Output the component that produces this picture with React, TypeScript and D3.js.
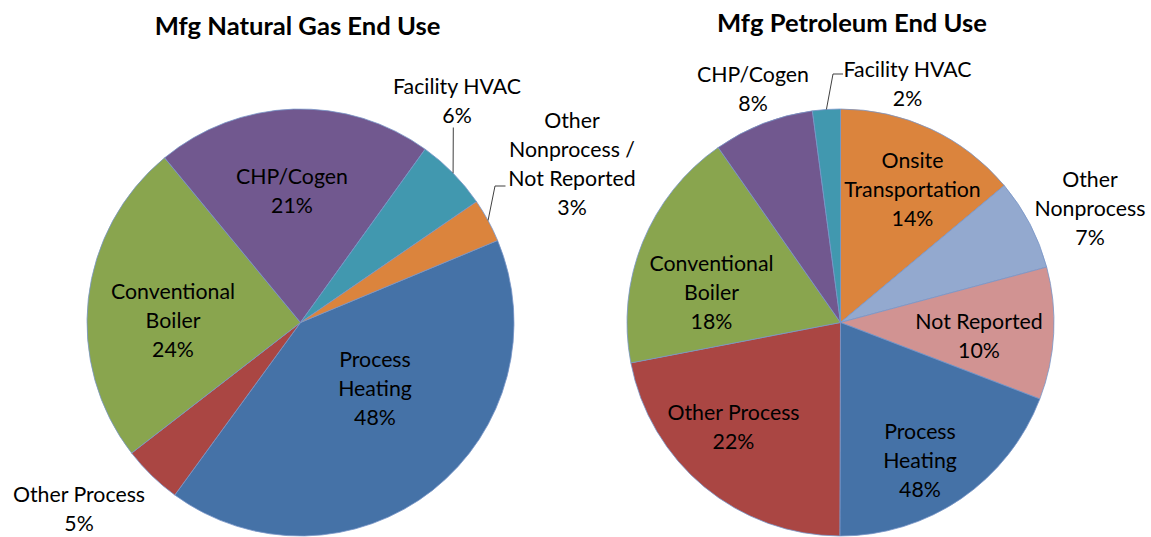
import React from "react";
import * as d3 from "d3";

// ---------- Data ----------
const gasCategories = [
  "Process Heating",
  "Other Process",
  "Conventional Boiler",
  "CHP/Cogen",
  "Facility HVAC",
  "Other Nonprocess / Not Reported",
];
const gasShares = [41.3, 4.5, 24.5, 20.9, 5.5, 3.3];
const gasPercentLabels = ["48%", "5%", "24%", "21%", "6%", "3%"];
const gasNameLines = [
  ["Process", "Heating"],
  ["Other Process"],
  ["Conventional", "Boiler"],
  ["CHP/Cogen"],
  ["Facility HVAC"],
  ["Other", "Nonprocess /", "Not Reported"],
];

const petCategories = [
  "Onsite Transportation",
  "Other Nonprocess",
  "Not Reported",
  "Process Heating",
  "Other Process",
  "Conventional Boiler",
  "CHP/Cogen",
  "Facility HVAC",
];
const petShares = [13.9, 6.9, 10.0, 19.2, 21.9, 18.3, 7.6, 2.1];
const petPercentLabels = ["14%", "7%", "10%", "48%", "22%", "18%", "8%", "2%"];
const petNameLines = [
  ["Onsite", "Transportation"],
  ["Other", "Nonprocess"],
  ["Not Reported"],
  ["Process", "Heating"],
  ["Other Process"],
  ["Conventional", "Boiler"],
  ["CHP/Cogen"],
  ["Facility HVAC"],
];

// ---------- Styles / layout ----------
const colorOf: Record<string, string> = {
  "Process Heating": "#4572A7",
  "Other Process": "#AA4643",
  "Conventional Boiler": "#89A54E",
  "CHP/Cogen": "#71588F",
  "Facility HVAC": "#4198AF",
  "Other Nonprocess / Not Reported": "#DB843D",
  "Onsite Transportation": "#DB843D",
  "Other Nonprocess": "#93A9CF",
  "Not Reported": "#D19392",
};

const W = 1151;
const H = 537;
const R = 213.5;
const FONT = "Lato, 'Open Sans', sans-serif";
const LABEL_SIZE = 21.3;
const TITLE_SIZE = 25.6;
const LINE_H = 29;

// label anchor offsets (first baseline) relative to pie centre
const gasLabelPos = [
  [74.5, 44.5],
  [-221.5, 179.2],
  [-127.5, -23.5],
  [-8.5, -138.5],
  [156.5, -228.5],
  [271.5, -194.5],
];
const petLabelPos = [
  [72, -155],
  [249.5, -135.5],
  [138.5, 6.5],
  [79.5, 116.5],
  [-107, 97.5],
  [-129, -51.5],
  [-87.5, -240.5],
  [67, -245.5],
];

type LeaderSpec = { idx: number; pts: [number, number][] };

type PieProps = {
  cx: number;
  cy: number;
  title: string;
  titleX: number;
  titleY: number;
  categories: string[];
  shares: number[];
  percents: string[];
  names: string[][];
  labelPos: number[][];
  startDeg: number;
  leaders: LeaderSpec[];
};

function Pie(p: PieProps) {
  const start = (p.startDeg * Math.PI) / 180;
  const pie = d3
    .pie<number>()
    .sort(null)
    .value((d) => d)
    .startAngle(start)
    .endAngle(start + 2 * Math.PI);
  const arcs = pie(p.shares);
  const arc = d3.arc<d3.PieArcDatum<number>>().innerRadius(0).outerRadius(R);
  const line = d3.line();

  return (
    <g>
      <text
        x={p.titleX}
        y={p.titleY}
        textAnchor="middle"
        fontFamily={FONT}
        fontWeight="bold"
        fontSize={TITLE_SIZE}
        fill="#000"
      >
        {p.title}
      </text>
      <g transform={`translate(${p.cx},${p.cy})`}>
        {arcs.map((a, i) => (
          <path
            key={i}
            d={arc(a) || ""}
            fill={colorOf[p.categories[i]]}
            stroke="#7896c8"
            strokeWidth={0.8}
            strokeLinejoin="round"
          />
        ))}
        {p.leaders.map((l, k) => {
          const a = arcs[l.idx];
          const mid = (a.startAngle + a.endAngle) / 2;
          const ex = R * Math.sin(mid);
          const ey = -R * Math.cos(mid);
          const pts: [number, number][] = [...l.pts, [ex, ey]];
          return (
            <path
              key={"l" + k}
              d={line(pts) || ""}
              fill="none"
              stroke="#404040"
              strokeWidth={1}
            />
          );
        })}
        {arcs.map((a, i) => {
          const [lx, ly] = p.labelPos[i];
          const lines = [...p.names[i], p.percents[i]];
          return (
            <text
              key={"t" + i}
              textAnchor="middle"
              fontFamily={FONT}
              fontSize={LABEL_SIZE}
              fill="#000"
            >
              {lines.map((s, j) => (
                <tspan key={j} x={lx} y={ly + j * LINE_H}>
                  {s}
                </tspan>
              ))}
            </text>
          );
        })}
      </g>
    </g>
  );
}

export default function App() {
  return (
    <svg
      width={W}
      height={H}
      style={{ position: "absolute", left: 0, top: 0, display: "block", background: "#fff" }}
    >
      <rect x={0} y={0} width={W} height={H} fill="#fff" />
      <Pie
        cx={300.5}
        cy={322.5}
        title="Mfg Natural Gas End Use"
        titleX={297.5}
        titleY={35}
        categories={gasCategories}
        shares={gasShares}
        percents={gasPercentLabels}
        names={gasNameLines}
        labelPos={gasLabelPos}
        startDeg={67.4}
        leaders={[
          { idx: 4, pts: [[152.8, -195]] },
          { idx: 5, pts: [[205, -136.5], [194.5, -136.5]] },
        ]}
      />
      <Pie
        cx={840.5}
        cy={322.5}
        title="Mfg Petroleum End Use"
        titleX={852}
        titleY={32}
        categories={petCategories}
        shares={petShares}
        percents={petPercentLabels}
        names={petNameLines}
        labelPos={petLabelPos}
        startDeg={0}
        leaders={[{ idx: 7, pts: [[2.5, -248.5], [-7.5, -248.5]] }]}
      />
    </svg>
  );
}
